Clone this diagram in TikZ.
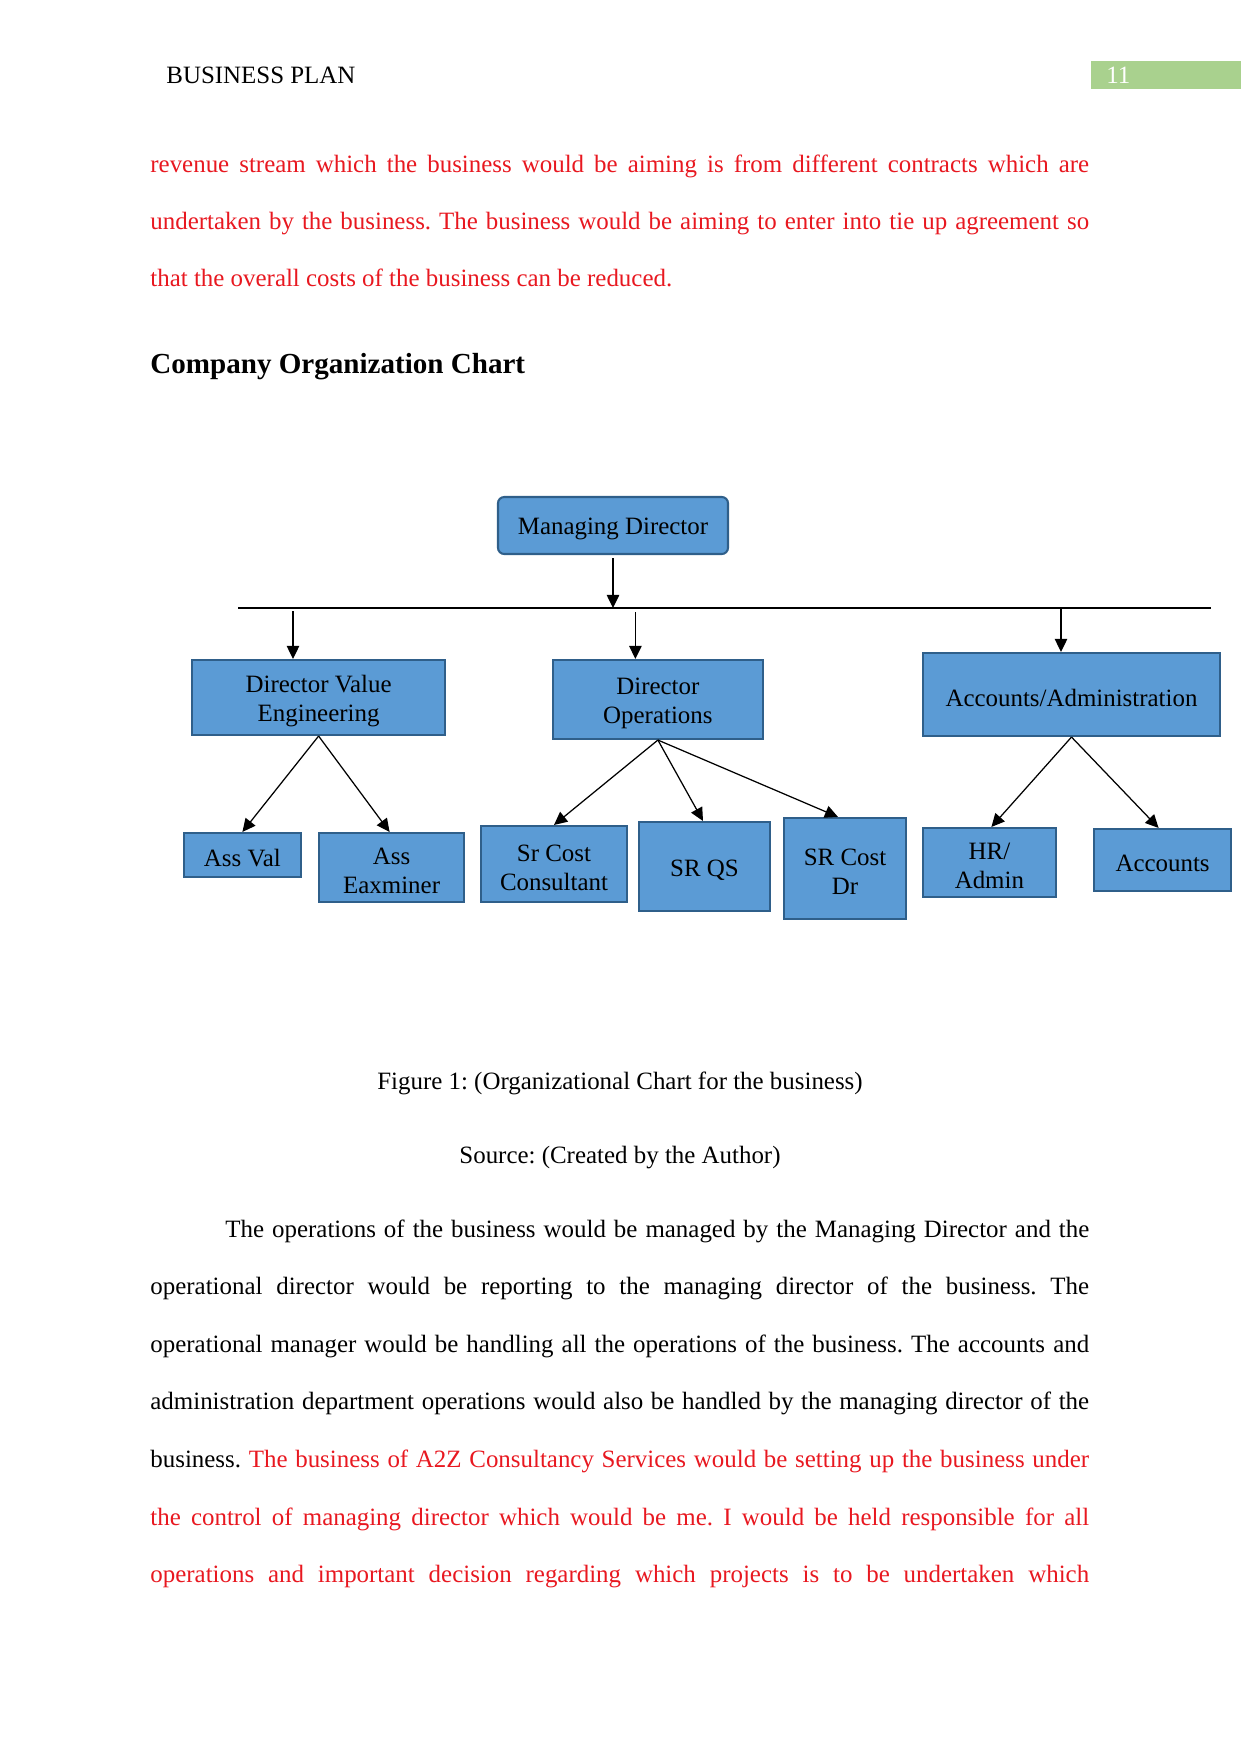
\documentclass[tikz,border=0pt]{standalone}
\usepackage{fontspec}
\setmainfont{Liberation Serif}
\usetikzlibrary{arrows.meta,calc}
\definecolor{boxfill}{HTML}{5B9BD5}
\definecolor{boxborder}{HTML}{2F5F8A}
\definecolor{redtext}{RGB}{232,24,32}
\definecolor{hdrgreen}{HTML}{A9D18E}
\newlength{\textw}
\setlength{\textw}{452pt}
\newcommand{\jline}[1]{\makebox[\textw][s]{#1}}
\newcommand{\topstrut}{\rule{0pt}{11.5pt}}
\frenchspacing
\begin{document}
\begin{tikzpicture}[x=0.4815pt,y=-0.4815pt,
  orgbox/.style={draw=boxborder,fill=boxfill,line width=1pt,align=center,inner sep=0pt,
    font=\fontsize{12}{14}\selectfont},
  conn/.style={line width=0.6pt,-{Triangle[length=6.3pt,width=6pt]}},
  bodytext/.style={anchor=base west,inner sep=0pt,font=\fontsize{12}{14}\selectfont},
  redline/.style={bodytext,text=redtext}]
\useasboundingbox (0,0) rectangle (1241,1754);
% header
\node[anchor=base west,inner sep=0pt,font=\fontsize{12}{14}\selectfont] (hdr) at (166,83) {BUSINESS PLAN};
\fill[hdrgreen] (1090.6,61) rectangle (1241,89);
\node[anchor=base west,inner sep=0pt,text=white,font=\fontsize{12}{14}\selectfont] (pg) at (1106,83) {11};
% top paragraph
\node[redline] (t1) at (150,172) {\jline{revenue stream which the business would be aiming is from different contracts which are}};
\node[redline] (t2) at (150,229) {\jline{undertaken by the business. The business would be aiming to enter into tie up agreement so}};
\node[redline] (t3) at (150,286) {that the overall costs of the business can be reduced.};
% heading
\node[bodytext,font=\fontsize{14}{16}\selectfont\bfseries] (hd) at (150,373) {Company Organization Chart};
% chart
\node[orgbox,rounded corners=3pt,minimum width=230*0.4815pt,minimum height=57*0.4815pt] (md) at (613,525.5) {\topstrut Managing Director};
\node[orgbox,minimum width=253.6*0.4815pt,minimum height=75*0.4815pt] (dve) at (318.6,697.5) {\topstrut Director Value\\Engineering};
\node[orgbox,minimum width=209.3*0.4815pt,minimum height=79*0.4815pt] (do) at (657.9,699.5) {\topstrut Director\\Operations};
\node[orgbox,minimum width=297.8*0.4815pt,minimum height=83*0.4815pt] (aa) at (1071.5,694.5) {\topstrut Accounts/Administration};
\node[orgbox,minimum width=117.1*0.4815pt,minimum height=44*0.4815pt] (av) at (242.4,855) {\topstrut Ass Val};
\node[orgbox,minimum width=145.6*0.4815pt,minimum height=69*0.4815pt] (ae) at (391.6,867.5) {\topstrut Ass\\Eaxminer};
\node[orgbox,minimum width=146.7*0.4815pt,minimum height=76*0.4815pt] (scc) at (554,864) {\topstrut Sr Cost\\Consultant};
\node[orgbox,minimum width=131*0.4815pt,minimum height=89*0.4815pt] (sqs) at (704.5,866.5) {\topstrut SR QS};
\node[orgbox,minimum width=122*0.4815pt,minimum height=101*0.4815pt] (scd) at (845,868.5) {\topstrut SR Cost\\Dr};
\node[orgbox,minimum width=133.5*0.4815pt,minimum height=69*0.4815pt] (hra) at (989.4,862.5) {\topstrut HR/\\Admin};
\node[orgbox,minimum width=137.7*0.4815pt,minimum height=62*0.4815pt] (acc) at (1162.6,860) {\topstrut Accounts};
% bus line
\coordinate (busl) at (238,608);
\coordinate (busr) at (1211,608);
\draw[line width=0.6pt] (busl) -- (busr);
\coordinate (j1) at (293,611);
\coordinate (j2) at (635.4,612);
\coordinate (j3) at (1061,608);
\draw[conn] ($(md.south)+(0,3)$) -- (md.south |- busl);
\draw[conn] (j1) -- (j1 |- dve.north);
\draw[conn] (j2) -- (j2 |- do.north);
\draw[conn] (j3) -- (j3 |- aa.north);
\draw[conn] (dve.south) -- (av.north);
\draw[conn] (dve.south) -- ($(ae.north)+(-2,0)$);
\draw[conn] (do.south) -- (scc.north);
\draw[conn] (do.south) -- ($(sqs.north)+(-1.5,0)$);
\draw[conn] (do.south) -- ($(scd.north)+(-7,0)$);
\draw[conn] (aa.south) -- ($(hra.north)+(2,0)$);
\draw[conn] (aa.south) -- ($(acc.north)+(-4,0)$);
% captions
\node[anchor=base,inner sep=0pt,font=\fontsize{12}{14}\selectfont] (cap) at (620,1089) {Figure 1: (Organizational Chart for the business)};
\node[anchor=base,inner sep=0pt,font=\fontsize{12}{14}\selectfont] (src) at (620,1163) {Source: (Created by the Author)};
% bottom paragraph
\node[bodytext] (b1) at (225,1237) {\makebox[\dimexpr\textw-36pt\relax][s]{The operations of the business would be managed by the Managing Director and the}};
\node[bodytext] (b2) at (150,1294.6) {\jline{operational director would be reporting to the managing director of the business. The}};
\node[bodytext] (b3) at (150,1352.2) {\jline{operational manager would be handling all the operations of the business. The accounts and}};
\node[bodytext] (b4) at (150,1409.8) {\jline{administration department operations would also be handled by the managing director of the}};
\node[bodytext] (b5) at (150,1467.4) {\jline{business. \textcolor{redtext}{The business of A2Z Consultancy Services would be setting up the business under}}};
\node[redline] (b6) at (150,1525) {\jline{the control of managing director which would be me. I would be held responsible for all}};
\node[redline] (b7) at (150,1582.6) {\jline{operations and important decision regarding which projects is to be undertaken which}};
\end{tikzpicture}
\end{document}
